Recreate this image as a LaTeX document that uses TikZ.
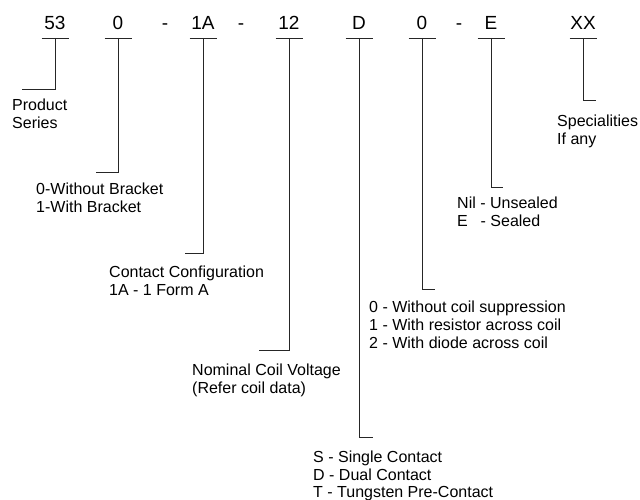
\documentclass[tikz,border=0pt]{standalone}
\usepackage{fontspec}
\setmainfont{Liberation Sans}
\begin{document}
\begin{tikzpicture}[x=1pt,y=-1pt,
  code/.style={font=\fontsize{19}{22}\selectfont, inner sep=0pt, anchor=base},
  lab/.style={font=\fontsize{16}{18}\selectfont, inner sep=0pt, anchor=base west},
  conn/.style={line width=0.9pt, color=black!85},
  uline/.style={line width=0.9pt, color=black!85}]
\useasboundingbox (0,0) rectangle (640,500);
\foreach \n/\t/\x/\cy/\ex in {a/53/55/89/22, b/0/118/172/96, c/1A/203/253/185, d/12/289/350/259, e/D/359/437/373, f/0/422/289/435, g/E/491/187/503, h/XX/583/100/596} {
  \node[code] (t\n) at (\x,30) {\t};
  \coordinate (u\n) at ([yshift=-8pt]t\n.base);
  \draw[uline] ([xshift=-13.5pt]u\n) -- ([xshift=13.5pt]u\n);
  \coordinate (k\n) at (\ex,\cy);
  \draw[conn] (u\n) |- (k\n);
}
\node[code] (h1) at (165,30) {-};
\node[code] (h2) at (241,30) {-};
\node[code] (h3) at (459,30) {-};
% labels
\node[lab] (a1) at (12,111) {Product};
\node[lab] (a2) at (12,129) {Series};
\node[lab] (b1) at (36,194) {0-Without Bracket};
\node[lab] (b2) at (36,212) {1-With Bracket};
\node[lab] (c1) at (109,277) {Contact Configuration};
\node[lab] (c2) at (109,295) {1A - 1 Form A};
\node[lab] (d1) at (192,375) {Nominal Coil Voltage};
\node[lab] (d2) at (192,393) {(Refer coil data)};
\node[lab] (e1) at (313,462) {S - Single Contact};
\node[lab] (e2) at (313,480) {D - Dual Contact};
\node[lab] (e3) at (313,497) {T - Tungsten Pre-Contact};
\node[lab] (f1) at (369,312) {0 - Without coil suppression};
\node[lab] (f2) at (369,330) {1 - With resistor across coil};
\node[lab] (f3) at (369,348) {2 - With diode across coil};
\node[lab] (g1) at (457,208) {Nil - Unsealed};
\node[lab] (g2) at (457,226) {\makebox[23.5pt][l]{E}- Sealed};
\node[lab] (h1l) at (557,127) {Specialities};
\node[lab] (h2l) at (557,145) {If any};
\end{tikzpicture}
\end{document}
